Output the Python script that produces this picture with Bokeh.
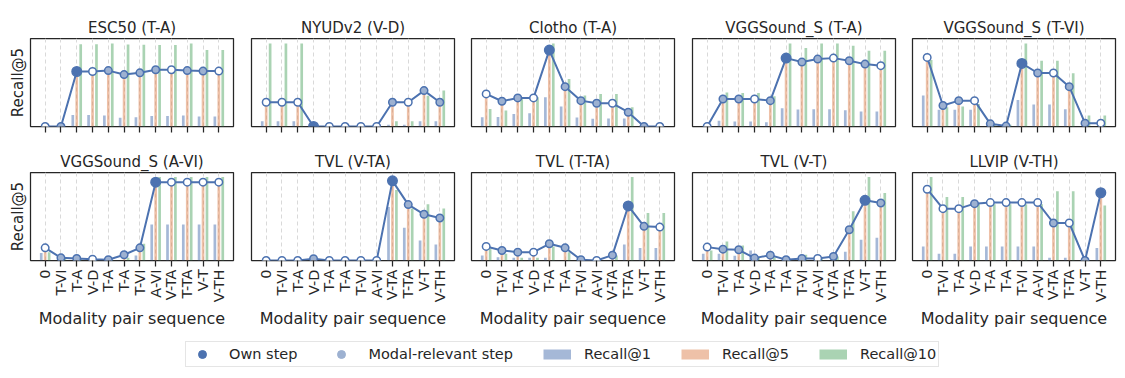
import math
from bokeh.plotting import figure
from bokeh.layouts import column, row
from bokeh.models import ColumnDataSource, FixedTicker, Range1d, Legend, LegendItem
from bokeh.transform import dodge
from bokeh.embed import file_html
from bokeh.resources import INLINE

# ---------------- data ----------------
steps = ["0", "T-VI", "T-A", "V-D", "T-A", "T-A", "T-VI", "A-VI", "V-TA", "T-TA", "V-T", "V-TH"]

titles = ["ESC50 (T-A)", "NYUDv2 (V-D)", "Clotho (T-A)", "VGGSound_S (T-A)", "VGGSound_S (T-VI)",
          "VGGSound_S (A-VI)", "TVL (V-TA)", "TVL (T-TA)", "TVL (V-T)", "LLVIP (V-TH)"]

# step kind per point: d = own step, r = modal-relevant step, o = other step
kinds = ["ordorrrrorro", "ooodoooororr", "orrodrrrorro", "orrordrrorro", "orrorrdrorro",
         "orrorrrdoooo", "oooroooodrrr", "orrorrrordro", "orrrrrrorrdr", "oooroooorord"]

# recall values (relative scale, 0-100 of panel height)
r1_esc50 = [0, 0, 13, 13, 12.5, 10, 10.5, 12, 12, 12.5, 11.5, 11.5]
r5_esc50 = [0, 0, 62.5, 62.5, 63.5, 59, 61, 64.5, 64.5, 63.5, 63, 63]
r10_esc50 = [0, 0, 93.6, 93.6, 94.3, 93.2, 92.8, 92.5, 92.5, 94.3, 86.8, 86.8]

r1_nyu = [6, 6, 6, 0, 0, 0, 0, 0, 2, 2, 6, 6]
r5_nyu = [27.5, 27.5, 27.5, 0, 0, 0, 0, 0, 27.5, 27.5, 40.8, 27.5]
r10_nyu = [94.3, 94.3, 94.3, 0, 0, 0, 0, 0, 6, 6, 35, 40.8]

r1_clotho = [10.6, 10.9, 14.3, 15.1, 33.2, 22.6, 10.2, 8.7, 9, 9, 0, 0]
r5_clotho = [37, 28.7, 32.5, 32.5, 86.8, 45.3, 29.4, 26.4, 26.4, 16.2, 0, 0]
r10_clotho = [20, 18.1, 31.3, 33.2, 94.3, 54, 35.1, 37, 37, 21.9, 0, 0]

r1_vgg_ta = [0, 6.4, 5.7, 5.7, 4.9, 20.8, 19.2, 19.6, 19.6, 18.5, 17, 17]
r5_vgg_ta = [0, 31.3, 31.3, 31.3, 29.4, 77.7, 73.2, 76.6, 77.7, 74.7, 70.9, 69.1]
r10_vgg_ta = [0, 38.5, 38.1, 38.1, 34.3, 94.3, 89.1, 94.3, 94.3, 91.7, 86, 86]

r1_vgg_tvi = [35.1, 18.9, 18.9, 18.9, 0, 0, 30.2, 24.9, 24.9, 19.6, 0, 0]
r5_vgg_tvi = [78.5, 23.8, 29.4, 29.4, 3, 0.5, 71.7, 60.8, 60.8, 45.3, 3.8, 3.8]
r10_vgg_tvi = [75.5, 21.9, 22.6, 25.7, 2, 2, 94.3, 74.7, 74.7, 60.4, 12.5, 12.5]

r1_vgg_avi = [8.4, 0, 0, 0, 0, 0, 5.7, 41, 41, 41, 41, 41]
r5_vgg_avi = [14.4, 3, 2.3, 1.5, 0.8, 6.5, 14.4, 89, 89, 89, 89, 89]
r10_vgg_avi = [9.5, 3, 2, 1, 0.5, 3, 19, 95, 95, 95, 95, 95]

r1_tvl_vta = [0, 0, 0, 0, 0, 0, 0, 0, 60.8, 37.3, 22.8, 18.3]
r5_tvl_vta = [0, 0, 0, 2, 0, 0, 0, 0, 90.5, 63.5, 52.5, 48.3]
r10_tvl_vta = [0, 0, 0, 0, 0, 0, 0, 0, 80, 59, 63.9, 59]

r1_tvl_tta = [5.7, 3.8, 3, 3, 3, 0, 0, 0, 0, 18.3, 14.1, 14.1]
r5_tvl_tta = [16, 11.4, 9.5, 9.5, 19, 14.4, 0.8, 0, 6.1, 62, 38.8, 38]
r10_tvl_tta = [13.3, 7.6, 3, 3, 16, 9.5, 0, 0, 5.7, 95, 54, 54]

r1_tvl_vt = [7.6, 7.6, 5.3, 11.4, 0, 0, 0, 0, 0, 9.9, 23.6, 25.9]
r5_tvl_vt = [15.2, 12.9, 12.2, 2.7, 6.1, 0.8, 2.3, 2.3, 4.6, 35, 68.4, 65.4]
r10_tvl_vt = [11.4, 21.7, 17.1, 3.8, 3.8, 1, 6.5, 2, 4.6, 55.9, 95, 76.8]

r1_llvip = [16, 7.6, 7.6, 16, 16, 16, 16, 16, 3, 3, 0, 14.1]
r5_llvip = [81, 58.9, 58.9, 64.6, 65.8, 65.8, 65.8, 65.8, 42.6, 42.6, 0, 77]
r10_llvip = [95, 72.2, 72.2, 64.6, 64, 64, 64, 64, 78.7, 78.7, 0, 62.4]

recall1 = [r1_esc50, r1_nyu, r1_clotho, r1_vgg_ta, r1_vgg_tvi, r1_vgg_avi, r1_tvl_vta, r1_tvl_tta, r1_tvl_vt, r1_llvip]
recall5 = [r5_esc50, r5_nyu, r5_clotho, r5_vgg_ta, r5_vgg_tvi, r5_vgg_avi, r5_tvl_vta, r5_tvl_tta, r5_tvl_vt, r5_llvip]
recall10 = [r10_esc50, r10_nyu, r10_clotho, r10_vgg_ta, r10_vgg_tvi, r10_vgg_avi, r10_tvl_vta, r10_tvl_tta, r10_tvl_vt, r10_llvip]

legend_labels = ["Own step", "Modal-relevant step", "Recall@1", "Recall@5", "Recall@10"]

# ---------------- style ----------------
BLUE = "#4c72b0"
ORANGE = "#dd8452"
GREEN = "#55a868"
LIGHT = "#9db1d1"
INK = "#262626"
GRID = "#d9d9d9"
FONT = "DejaVu Sans"
fill_for = {"d": BLUE, "r": LIGHT, "o": "white"}
size_for = {"d": 9.5, "r": 7.5, "o": 7.5}

lefts = [30, 16, 15, 16, 15]
FRAME_W = 203


def make_panel(i):
    c, r = i % 5, i // 5
    top = 38 if r == 0 else 34
    bottom = 12 if r == 0 else 72
    p = figure(width=lefts[c] + FRAME_W + 2, height=top + 88 + bottom,
               x_range=Range1d(-0.93, 11.93), y_range=Range1d(0, 100),
               output_backend="svg", toolbar_location=None, title=titles[i],
               min_border_left=lefts[c], min_border_right=2,
               min_border_top=top, min_border_bottom=bottom)
    p.title.text_font = FONT
    p.title.text_font_size = "15px"
    p.title.text_font_style = "normal"
    p.title.text_color = INK
    p.title.align = "center"
    p.title.standoff = 4

    p.background_fill_color = "white"
    p.border_fill_color = "white"
    p.outline_line_color = INK
    p.outline_line_width = 1.25
    p.outline_line_alpha = 1.0

    src = ColumnDataSource(dict(
        x=list(range(len(steps))),
        r1=recall1[i], r5=recall5[i], r10=recall10[i],
        fill=[fill_for[k] for k in kinds[i]],
        size=[size_for[k] for k in kinds[i]],
    ))

    # x axis
    xa = p.xaxis[0]
    xa.axis_line_color = None
    p.ygrid.visible = False
    if r == 0:
        # ticks without labels: use minor ticks only
        xa.ticker = FixedTicker(ticks=[], minor_ticks=list(range(len(steps))))
        xa.minor_tick_line_color = INK
        xa.minor_tick_line_width = 1.25
        xa.minor_tick_out = 6
        xa.minor_tick_in = 0
        xa.major_tick_line_color = None
        xa.major_label_standoff = 0
        p.xgrid.grid_line_color = None
        p.xgrid.minor_grid_line_color = GRID
        p.xgrid.minor_grid_line_dash = "4 3"
        p.xgrid.minor_grid_line_width = 1
    else:
        xa.ticker = FixedTicker(ticks=list(range(len(steps))))
        xa.major_label_overrides = {k: s for k, s in enumerate(steps)}
        xa.major_tick_line_color = INK
        xa.major_tick_line_width = 1.25
        xa.major_tick_out = 6
        xa.major_tick_in = 0
        xa.minor_tick_line_color = None
        xa.major_label_standoff = 3
        xa.major_label_text_font = FONT
        xa.major_label_text_font_size = "14.5px"
        xa.major_label_text_color = INK
        xa.major_label_orientation = math.pi / 2
        xa.axis_label = "Modality pair sequence"
        xa.axis_label_text_font = FONT
        xa.axis_label_text_font_size = "16px"
        xa.axis_label_text_font_style = "normal"
        xa.axis_label_text_color = INK
        xa.axis_label_standoff = 4
        p.xgrid.grid_line_color = GRID
        p.xgrid.grid_line_dash = "4 3"
        p.xgrid.grid_line_width = 1

    # y axis
    ya = p.yaxis[0]
    if c == 0:
        ya.ticker = FixedTicker(ticks=[])
        ya.axis_label = "Recall@5"
        ya.axis_label_text_font = FONT
        ya.axis_label_text_font_size = "15px"
        ya.axis_label_text_font_style = "normal"
        ya.axis_label_text_color = INK
        ya.axis_label_standoff = 4
        ya.major_label_standoff = 0
        ya.major_tick_line_color = None
        ya.major_tick_out = 0
        ya.major_tick_in = 0
        ya.minor_tick_line_color = None
        ya.axis_line_color = None
    else:
        ya.visible = False

    # bars
    p.vbar(x=dodge("x", -0.25), top="r1", width=0.17, source=src,
           fill_color=BLUE, fill_alpha=0.5, line_color=None)
    p.vbar(x="x", top="r5", width=0.17, source=src,
           fill_color=ORANGE, fill_alpha=0.5, line_color=None)
    p.vbar(x=dodge("x", 0.25), top="r10", width=0.17, source=src,
           fill_color=GREEN, fill_alpha=0.5, line_color=None)
    # recall@5 trajectory
    p.line("x", "r5", source=src, line_color=BLUE, line_width=2)
    p.scatter("x", "r5", source=src, size="size", fill_color="fill",
              line_color=BLUE, line_width=1.5)
    return p


panels = [make_panel(i) for i in range(10)]

# ---------------- legend strip ----------------
lf = figure(width=1117, height=40, output_backend="svg", toolbar_location=None,
            title=None, min_border=0, x_range=Range1d(0, 1), y_range=Range1d(0, 1))
lf.axis.visible = False
lf.grid.visible = False
lf.outline_line_color = None
lf.background_fill_color = "white"
lf.border_fill_color = "white"

# legend-only renderers: points placed outside the visible range
off = dict(x=[-5, -4], y=[-5, -4])
r_own = lf.scatter(x=off["x"], y=off["y"], fill_color=BLUE, line_color=BLUE)
r_rel = lf.scatter(x=off["x"], y=off["y"], fill_color=LIGHT, line_color=LIGHT)
r_b1 = lf.line(x=off["x"], y=off["y"], line_color=BLUE, line_alpha=0.5, line_width=10)
r_b5 = lf.line(x=off["x"], y=off["y"], line_color=ORANGE, line_alpha=0.5, line_width=10)
r_b10 = lf.line(x=off["x"], y=off["y"], line_color=GREEN, line_alpha=0.5, line_width=10)

legend = Legend(items=[
    LegendItem(label=lab, renderers=[rr])
    for lab, rr in zip(legend_labels, [r_own, r_rel, r_b1, r_b5, r_b10])
], orientation="horizontal", location=(185, 5))
legend.label_text_font = FONT
legend.label_text_font_size = "14.5px"
legend.label_text_color = INK
legend.glyph_width = 28
legend.glyph_height = 20
legend.label_height = 20
legend.padding = 2
legend.spacing = 30
legend.label_standoff = 13
legend.margin = 0
legend.border_line_color = "#cccccc"
legend.border_line_width = 1
legend.background_fill_color = "white"
legend.background_fill_alpha = 1.0
lf.add_layout(legend)

layout = column(row(*panels[:5]), row(*panels[5:]), lf)

open("out.html", "w").write(file_html(layout, INLINE))
